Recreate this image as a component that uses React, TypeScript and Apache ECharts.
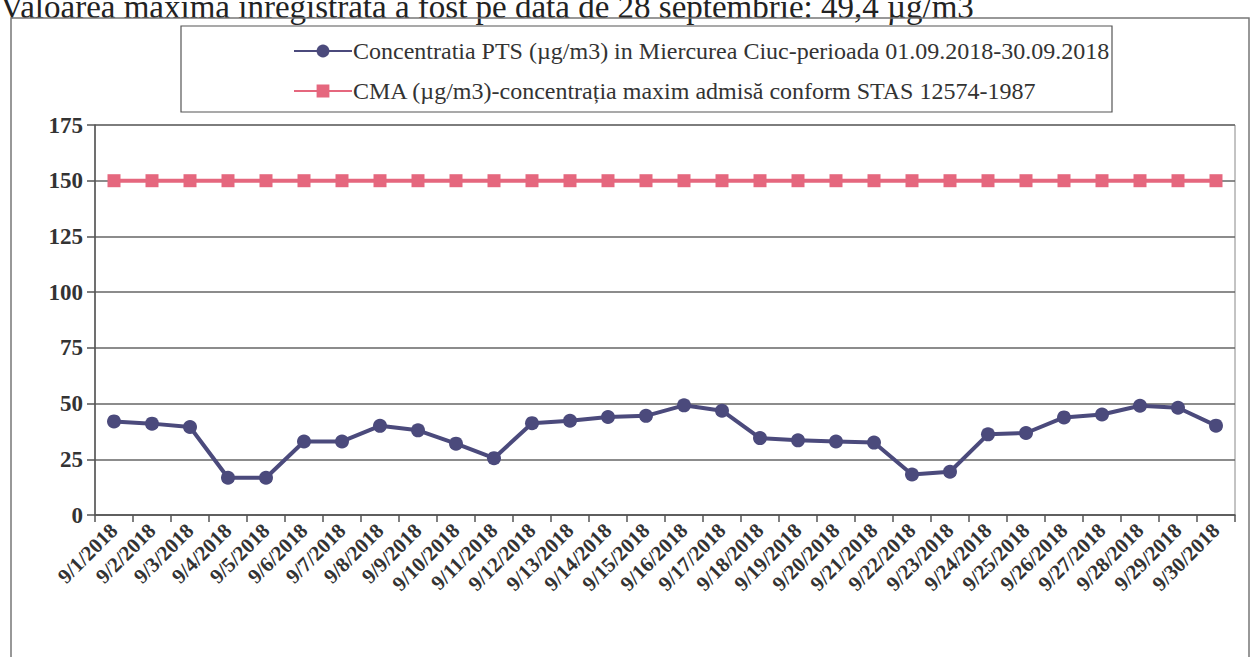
import React, { useEffect, useRef } from "react";
import * as echarts from "echarts";

const categories = [
  "9/1/2018", "9/2/2018", "9/3/2018", "9/4/2018", "9/5/2018", "9/6/2018",
  "9/7/2018", "9/8/2018", "9/9/2018", "9/10/2018", "9/11/2018", "9/12/2018",
  "9/13/2018", "9/14/2018", "9/15/2018", "9/16/2018", "9/17/2018", "9/18/2018",
  "9/19/2018", "9/20/2018", "9/21/2018", "9/22/2018", "9/23/2018", "9/24/2018",
  "9/25/2018", "9/26/2018", "9/27/2018", "9/28/2018", "9/29/2018", "9/30/2018",
];

const ptsValues = [
  42, 41, 39.5, 16.7, 16.7, 33, 33, 40, 38, 32, 25.5, 41.2, 42.3, 44, 44.5,
  49.2, 46.8, 34.5, 33.5, 33, 32.5, 18.2, 19.4, 36.2, 36.8, 43.8, 45.1, 49, 48.1, 40.1,
];

const cmaValues = [
  150, 150, 150, 150, 150, 150, 150, 150, 150, 150, 150, 150, 150, 150, 150,
  150, 150, 150, 150, 150, 150, 150, 150, 150, 150, 150, 150, 150, 150, 150,
];

const seriesNames = [
  "Concentratia PTS (µg/m3) in Miercurea Ciuc-perioada 01.09.2018-30.09.2018",
  "CMA (µg/m3)-concentrația maxim admisă conform STAS 12574-1987",
];

const headerText = "Valoarea maxima inregistrata a fost pe data de 28 septembrie: 49,4 µg/m3";

const SERIF = "'Liberation Serif', 'DejaVu Serif', serif";

export default function App() {
  const ref = useRef<HTMLDivElement>(null);

  useEffect(() => {
    document.body.style.margin = "0";
    if (!ref.current) return;
    const chart = echarts.init(ref.current, null, { renderer: "svg" });
    chart.setOption({
      animation: false,
      backgroundColor: "#ffffff",
      graphic: [
        {
          type: "text",
          left: 0,
          top: -10,
          style: {
            text: headerText,
            font: `33px ${SERIF}`,
            fill: "#222",
          },
        },
        {
          type: "rect",
          shape: { x: 11, y: 18, width: 1238, height: 650 },
          style: { fill: "none", stroke: "#777", lineWidth: 1.5 },
        },
        {
          type: "rect",
          shape: { x: 181, y: 26, width: 931, height: 86 },
          style: { fill: "none", stroke: "#555", lineWidth: 1.2 },
        },
      ],
      legend: {
        orient: "vertical",
        left: 288,
        top: 34,
        itemGap: 16,
        itemWidth: 58,
        itemHeight: 16,
        textStyle: { fontFamily: SERIF, fontSize: 24, color: "#333", padding: [0, 0, 0, -4] },
        data: seriesNames,
      },
      grid: {
        left: 95,
        right: 22,
        top: 125,
        bottom: 142,
        show: true,
        borderColor: "#888",
        borderWidth: 1,
      },
      xAxis: {
        type: "category",
        data: categories,
        boundaryGap: true,
        axisLine: { lineStyle: { color: "#555", width: 1.5 } },
        axisTick: { show: true, interval: 0, length: 7, lineStyle: { color: "#555", width: 1.5 } },
        axisLabel: {
          interval: 0,
          rotate: 45,
          fontFamily: SERIF,
          fontWeight: "bold",
          fontSize: 21,
          color: "#333",
          margin: 12,
        },
      },
      yAxis: {
        type: "value",
        min: 0,
        max: 175,
        interval: 25,
        axisLine: { show: true, lineStyle: { color: "#555", width: 1.5 } },
        axisTick: { show: true, length: 8, lineStyle: { color: "#555", width: 1.5 } },
        axisLabel: {
          fontFamily: SERIF,
          fontWeight: "bold",
          fontSize: 23,
          color: "#333",
          margin: 12,
        },
        splitLine: { lineStyle: { color: "#666", width: 1.5 } },
      },
      series: [
        {
          name: seriesNames[0],
          type: "line",
          data: ptsValues,
          symbol: "circle",
          symbolSize: 14,
          itemStyle: { color: "#4b4a7c" },
          lineStyle: { color: "#4b4a7c", width: 4 },
        },
        {
          name: seriesNames[1],
          type: "line",
          data: cmaValues,
          symbol: "rect",
          symbolSize: 13,
          itemStyle: { color: "#e5677e" },
          lineStyle: { color: "#e5677e", width: 4 },
        },
      ],
    });
    return () => chart.dispose();
  }, []);

  return (
    <div
      ref={ref}
      style={{ position: "absolute", left: 0, top: 0, width: 1257, height: 657 }}
    />
  );
}
